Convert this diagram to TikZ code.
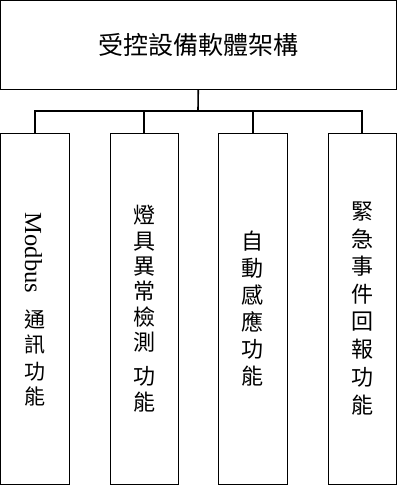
\documentclass[tikz,border=0pt]{standalone}
\usepackage{fontspec}
\setmainfont{Liberation Serif}
\newfontfamily\cjk{Noto Sans CJK TC}
\begin{document}
\begin{tikzpicture}[x=1pt,y=-1pt,
  box/.style={draw=black,line width=0.9pt,inner sep=0pt,fill=white},
  col/.style={box,minimum height=350.5pt,align=center,font=\cjk},
  txt/.style={inner sep=0pt,align=center},
  link/.style={draw=black,line width=1.6pt}]
\useasboundingbox (0,0) rectangle (404,490);
\node[box,minimum width=395.5pt,minimum height=89pt,
  font=\cjk\fontsize{25}{30}\selectfont] (top) at (198.25,45) {受控設備軟體架構};
\node[col,minimum width=68.5pt] (b1) at (34.75,308.75) {};
\node[txt,rotate=-90,font=\rmfamily\fontsize{24.5}{30}\selectfont] (m1) at (33.5,253) {Modbus};
\node[txt,font=\cjk\fontsize{21}{25}\selectfont] (t1) at (35,358.5) {通\\訊\\[2pt]功\\能};
\node[col,minimum width=68pt,font=\cjk\fontsize{22}{25.3}\selectfont] (b2) at (144,308.75)
  {燈\\具\\異\\常\\檢\\測\\[9pt]功\\能};
\node[col,minimum width=68.5pt,font=\cjk\fontsize{22}{27}\selectfont] (b3) at (252.75,308.75)
  {自\\動\\感\\應\\功\\能};
\node[col,minimum width=68pt,font=\cjk\fontsize{22}{27.5}\selectfont] (b4) at (362,308.75)
  {緊\\急\\事\\件\\回\\報\\[1pt]功\\能};
\coordinate (j) at (198,111);
\draw[link] (top.south) -- (j);
\draw[link] (b1.north) -- (b1.north |- j) -- (b4.north |- j) -- (b4.north);
\draw[link] (b2.north) -- (b2.north |- j);
\draw[link] (b3.north) -- (b3.north |- j);
\end{tikzpicture}
\end{document}
